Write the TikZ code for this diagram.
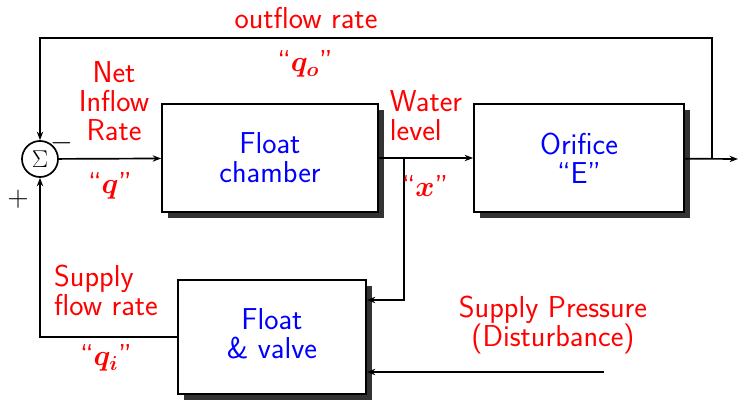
\documentclass[tikz,border=0pt]{standalone}
\usepackage{amsmath,amssymb,bm}
\usepackage{tikz}
\usetikzlibrary{arrows.meta,positioning,shadows}
\usepackage{xcolor}

\begin{document}
\begin{tikzpicture}[
      x=0.025cm, y=-0.025cm,
      block/.style={draw, fill=white, line width=1.2pt, align=center, text=blue,
        drop shadow={shadow xshift=4pt, shadow yshift=-4pt, fill=black!80, opacity=1}},
      sumnode/.style={circle, draw, line width=1.2pt, inner sep=0pt, minimum size=0.9cm,
        font=\fontsize{18}{18}\selectfont},
      sign/.style={font=\fontsize{21}{21}\selectfont},
      lbl/.style={text=red, align=center},
      every node/.style={font=\sffamily\fontsize{21.5}{20.5}\selectfont},
      line width=1.2pt,
      >={Stealth[length=6pt,width=4.5pt]}
    ]
    \useasboundingbox (0,0) rectangle (744,401);
    % blocks of the loop
    \node[sumnode] (sum) at (40,159) {$\Sigma$};
    \node[block, minimum width=5.4cm, minimum height=2.7cm] (chamber) at (270,158) {Float\\chamber};
    \node[block, minimum width=5.25cm, minimum height=2.7cm] (orifice) at (579,158) {Orifice\\``E''};
    \node[block, minimum width=4.7cm, minimum height=2.85cm] (valve) at (272,337) {Float\\\& valve\vphantom{(}};
    % helper points
    \coordinate (out) at (738,159);
    \coordinate (tap) at (712,159);
    \coordinate (branch) at (404,159);
    \coordinate (dist) at (604,372);
    % forward path
    \draw[->] (sum) -- (chamber);
    \draw[->] (chamber) -- (orifice);
    \draw[->] (orifice) -- (out);
    % outflow feedback
    \draw[->] (tap) -- (712,38) -- (40,38) -- (sum);
    % level to float valve
    \draw[->] (branch) |- (valve.east |- 0,300);
    % supply path
    \draw[->] (valve.west) -| (sum);
    \draw[->] (dist) -- (valve.east |- dist);
    % labels
    \node[lbl] (outlbl) at (306,18) {outflow rate};
    \node[lbl] (qo) at (305,64) {``$\bm{q_o}$''};
    \node[lbl] (netlbl) at (114,101) {Net\\Inflow\\Rate};
    \node[sign] (minus) at (62,143) {$-$};
    \node[sign] (plus) at (18,199) {$+$};
    \node[lbl] (q) at (110,186) {``$\bm{q}$''};
    \node[lbl, align=left] (levlbl) at (426,116) {Water\\level};
    \node[lbl] (x) at (425,186) {``$\bm{x}$''};
    \node[lbl, align=left] (suplbl) at (106,290) {Supply\\flow rate};
    \node[lbl] (qi) at (106,358) {``$\bm{q_i}$''};
    \node[lbl] (distlbl) at (553,325) {Supply Pressure\\(Disturbance)};
  \end{tikzpicture}
\end{document}
